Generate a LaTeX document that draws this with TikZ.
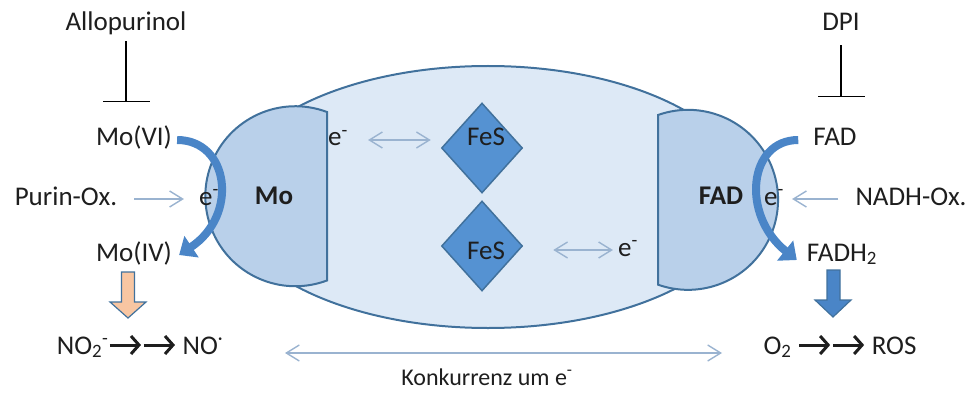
\documentclass[tikz,border=0pt]{standalone}
\usepackage{fontspec}
\setmainfont{Carlito}
\usetikzlibrary{arrows.meta,shapes.geometric}

\definecolor{textc}{HTML}{1E1E1E}
\definecolor{edgec}{HTML}{41719C}
\definecolor{bodyc}{HTML}{DDE9F6}
\definecolor{halfc}{HTML}{B9D0EA}
\definecolor{diac}{HTML}{5592D2}
\definecolor{flowc}{HTML}{4A85C7}
\definecolor{thinc}{HTML}{9AB3D0}
\definecolor{orangec}{HTML}{F8C6A2}

% reaction arrow used inside the formulas
\newcommand{\reacarrow}{\tikz[baseline={(0pt,-9pt)}]\draw[textc, line width=3pt,
  -{Straight Barb[length=8pt,width=18pt,line width=3pt]}] (0pt,0pt) -- (31pt,0pt);}
\newcommand{\elec}{e\textsuperscript{-}}

\begin{document}
\begin{tikzpicture}[x=1pt,y=-1pt,
  txt/.style={inner sep=0pt, text height=18pt, text depth=6pt,
    font=\fontsize{27}{30}\selectfont, text=textc},
  body/.style={draw=edgec, fill=bodyc, line width=2pt},
  half/.style={draw=edgec, fill=halfc, line width=2pt},
  fes/.style={diamond, draw=edgec, fill=diac, line width=1.5pt,
    minimum width=81pt, minimum height=90pt, inner sep=0pt},
  thinarr/.style={draw=thinc, line width=1.4pt,
    -{Straight Barb[length=13pt,width=16pt]}},
  thindbl/.style={draw=thinc, line width=1.4pt,
    {Straight Barb[length=13pt,width=16pt]}-{Straight Barb[length=13pt,width=16pt]}},
  inhib/.style={draw=black, line width=1.1pt, -{Bar[width=47pt]}},
  bigarr/.style={draw=flowc, line width=8pt,
    -{Triangle[width=25pt,length=15pt]}},
]
\useasboundingbox (0,0) rectangle (971,393);

% enzyme body
\draw[body] (488,197) ellipse [x radius=262, y radius=131];

% Mo and FAD domains
\draw[half] (327,112) arc[start angle=-69.4, end angle=-290.6, radius=90] -- cycle;
\draw[half] (658,115) arc[start angle=-109.5, end angle=109.5, radius=90] -- cycle;

% iron-sulfur clusters
\node[fes] (fes1) at (482,148) {};
\node[fes] (fes2) at (482,246) {};
\node[txt] (fes1l) at (486,140) {FeS};
\node[txt] (fes2l) at (486,253) {FeS};

% labels
\node[txt] (allo) at (126,25) {Allopurinol};
\node[txt] (dpi) at (841,25) {DPI};
\node[txt] (movi) at (134,140) {Mo(VI)};
\node[txt] (moiv) at (134,255) {Mo(IV)};
\node[txt] (purin) at (66,199) {Purin-Ox.};
\node[txt] (e1) at (209,199) {\elec};
\node[txt,font=\fontsize{27}{30}\selectfont\bfseries] (mo) at (274,198) {Mo};
\node[txt] (emo) at (338,140) {\elec};
\node[txt] (efad) at (628,250) {\elec};
\node[txt,font=\fontsize{27}{30}\selectfont\bfseries] (fad) at (721,198) {FAD};
\node[txt] (e2) at (774,199) {\elec};
\node[txt] (nadh) at (911,199) {NADH-Ox.};
\node[txt] (fadtop) at (835,140) {FAD};
\node[txt] (fadh2) at (842,255) {FADH\textsubscript{2}};
\node[txt] (no) at (140,348) {NO\textsubscript{2}\textsuperscript{-}\reacarrow\reacarrow\ NO\textsuperscript{·}};
\node[txt] (ros) at (840,348) {O\textsubscript{2} \reacarrow\reacarrow\ ROS};
\node[txt,font=\fontsize{24}{28}\selectfont] (konk) at (487,379) {Konkurrenz um \elec};

% inhibitors
\coordinate (allobar) at (126,102);
\coordinate (dpibar) at (841,97);
\draw[inhib, shorten <=4pt] (allo) -- (allobar);
\draw[inhib, shorten <=8pt] (dpi) -- (dpibar);

% electron inputs
\draw[thinarr, shorten <=17pt, shorten >=15pt] (purin.east) -- (e1.west);
\draw[thinarr, shorten <=17pt, shorten >=8pt] (nadh.west) -- (e2.east);

% electron exchange with the clusters
\draw[thindbl, shorten <=20pt, shorten >=10pt] (emo.east) -- (emo.east -| fes1.west);
\draw[thindbl, shorten <=30pt, shorten >=5pt] (efad.west -| fes2.east) -- (efad.west);

% competition
\coordinate (kl) at (285,353);
\coordinate (kr) at (722,353);
\draw[thindbl] (kl) -- (kr);

% redox cycles
\draw[bigarr] ([xshift=5pt]movi.east) .. controls +(52,0) and +(60,-40) .. ([xshift=7pt]moiv.east);
\draw[bigarr] ([xshift=-15pt]fadtop.west) .. controls +(-50,0) and +(-56,-45) .. ([xshift=-10pt,yshift=-5pt]fadh2.west);

% product arrows
\draw[fill=orangec, draw=edgec, line width=1.2pt]
  (121.5,272) -- (134.5,272) -- (134.5,302) -- (146,302) -- (128,318)
  -- (110,302) -- (121.5,302) -- cycle;
\draw[fill=flowc, draw=edgec, line width=1.2pt]
  (827,270) -- (840,270) -- (840,300) -- (851,300) -- (833,317)
  -- (815,300) -- (827,300) -- cycle;
\end{tikzpicture}
\end{document}
